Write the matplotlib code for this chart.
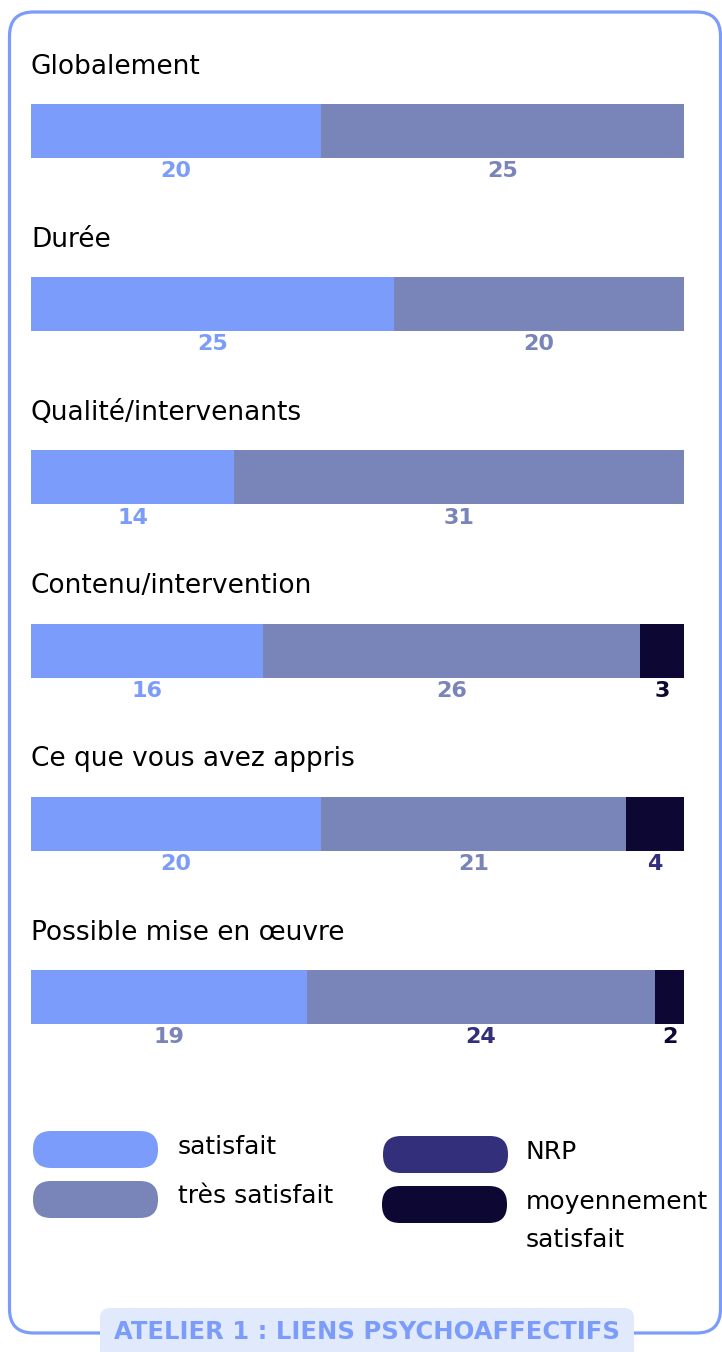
"""
Atelier 1 : liens psychoaffectifs -- satisfaction bars.
"""

import matplotlib.pyplot as plt
from matplotlib.patches import FancyBboxPatch

# -- Data --------------------------------------------------------------------
categories = ["Globalement", "Durée", "Qualité/intervenants",
              "Contenu/intervention", "Ce que vous avez appris",
              "Possible mise en œuvre"]
satisfait = [20, 25, 14, 16, 20, 19]
tres_satisfait = [25, 20, 31, 26, 21, 24]
moyennement = [0, 0, 0, 3, 4, 2]

legend_labels = ["satisfait", "très satisfait", "NRP", "moyennement\nsatisfait"]
footer = "ATELIER 1 : LIENS PSYCHOAFFECTIFS"

# -- Style -------------------------------------------------------------------
LIGHT = "#7b9cfa"
SLATE = "#7984b9"
NRP = "#342f7b"
DARK = "#0c0833"
BOX_BG = "#e1e9fd"

# colour of each number label (per row, per segment)
label_colors = [
    [LIGHT, SLATE, DARK],
    [LIGHT, SLATE, DARK],
    [LIGHT, SLATE, DARK],
    [LIGHT, SLATE, DARK],
    [LIGHT, SLATE, NRP],
    [SLATE, NRP, DARK],
]

W, H = 722, 1352
fig = plt.figure(figsize=(W / 100, H / 100), dpi=100)

# background axes in pixel units (frame, legend, footer)
bg = fig.add_axes([0, 0, 1, 1])
bg.set_xlim(0, W)
bg.set_ylim(H, 0)
bg.axis("off")

# -- Bars --------------------------------------------------------------------
row_px = 173.2
bar_px = 54
h = bar_px / row_px
top_px, bot_px = 104, 104 + 5 * row_px + bar_px
left_px, right_px = 31, 684
ax = fig.add_axes([left_px / W, 1 - bot_px / H,
                   (right_px - left_px) / W, (bot_px - top_px) / H])
ax.set_xlim(0, 45)
ax.set_ylim(5 + h / 2, -h / 2)
ax.axis("off")

ypos = list(range(len(categories)))
left2 = satisfait
left3 = [a + b for a, b in zip(satisfait, tres_satisfait)]
ax.barh(ypos, satisfait, height=h, color=LIGHT, linewidth=0)
ax.barh(ypos, tres_satisfait, left=left2, height=h, color=SLATE, linewidth=0)
ax.barh(ypos, moyennement, left=left3, height=h, color=DARK, linewidth=0)

for i, cat in enumerate(categories):
    ax.text(0.0, i - 0.372, cat, ha="left", va="center",
            fontsize=19, color="black", clip_on=False)
    segs = [(0, satisfait[i]), (left2[i], tres_satisfait[i]),
            (left3[i], moyennement[i])]
    for k, (start, val) in enumerate(segs):
        if val == 0:
            continue
        ax.text(start + val / 2, i + 0.232, str(val), ha="center",
                va="center", fontsize=16, fontweight="heavy",
                color=label_colors[i][k], clip_on=False)

# -- Frame -------------------------------------------------------------------
bg.add_patch(FancyBboxPatch((9.5, 12), 711, 1321,
                            boxstyle="round,pad=0,rounding_size=24",
                            fill=False, edgecolor=LIGHT, linewidth=2.3))

# -- Legend ------------------------------------------------------------------
pills = [(33, 1131, LIGHT), (33, 1181, SLATE), (383, 1136, NRP), (382, 1186, DARK)]
text_pos = [(178, 1147), (178, 1196), (526, 1152), (526, 1221)]
for (x, y, c), (tx, ty), lab in zip(pills, text_pos, legend_labels):
    bg.add_patch(FancyBboxPatch((x, y), 125, 37,
                                boxstyle="round,pad=0,rounding_size=18",
                                facecolor=c, edgecolor="none"))
    bg.text(tx, ty, lab, ha="left", va="center", fontsize=18,
            color="black", linespacing=1.7)

# -- Footer ------------------------------------------------------------------
bg.add_patch(FancyBboxPatch((100, 1308), 534, 60,
                            boxstyle="round,pad=0,rounding_size=10",
                            facecolor=BOX_BG, edgecolor="none"))
bg.text(367, 1332, footer, ha="center", va="center", fontsize=17.5,
        fontweight="heavy", color=LIGHT)

fig.savefig("out.png", dpi=100, facecolor="white")
plt.close(fig)
